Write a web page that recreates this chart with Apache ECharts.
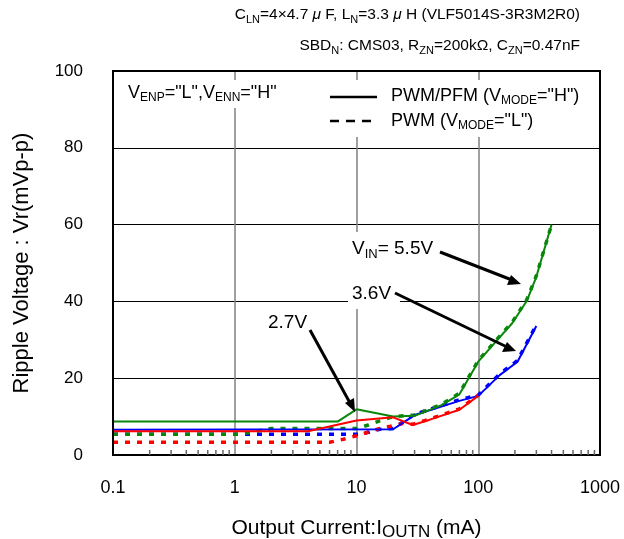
<!DOCTYPE html>
<html><head><meta charset="utf-8">
<script src="https://cdn.jsdelivr.net/npm/echarts@6/dist/echarts.min.js"></script>
<style>html,body{margin:0;padding:0;background:#fff}#c{width:624px;height:539px}</style>
</head><body><div id="c"></div>
<script>
// ---- data (Output current mA, ripple mVp-p) ----
var xTickLabels = ['0.1','1','10','100','1000'];
var yTickLabels = ['0','20','40','60','80','100'];

var green55SolidX = [0.1, 7, 10, 20, 30, 50, 70, 100, 140, 190, 250, 300, 400];
var green55SolidY = [8.7, 8.7, 11.9, 10.0, 10.2, 13.0, 15.8, 24.3, 29.6, 34.3, 40.1, 46.4, 60.0];

var red27SolidX = [0.1, 4, 10, 20, 29, 40, 70, 100];
var red27SolidY = [6.2, 6.2, 9.0, 9.8, 7.8, 9.2, 11.8, 15.4];

var blue36SolidX = [0.1, 20, 30, 70, 100, 150, 210, 300];
var blue36SolidY = [6.6, 6.7, 10.4, 14.1, 15.4, 20.8, 24.3, 33.6];

var green55DashX = [0.1, 1.1, 2, 10, 12.5, 15.5, 20, 30, 50, 70, 100, 140, 190, 250, 300, 400];
var green55DashY = [5.4, 5.4, 6.9, 6.9, 7.8, 8.9, 10.0, 10.4, 13.2, 16.1, 24.6, 29.9, 34.6, 40.4, 46.7, 60.0];

var blue36DashX = [0.1, 10, 12.5, 15.5, 20, 30, 70, 100, 150, 210, 300];
var blue36DashY = [5.4, 5.4, 5.9, 6.7, 6.9, 10.6, 14.4, 15.6, 21.1, 24.6, 33.9];

var red27DashX = [0.1, 6, 7.8, 10, 15.5, 19, 24, 29, 40, 70, 100];
var red27DashY = [3.3, 3.3, 4.1, 5.0, 6.9, 7.5, 8.2, 8.0, 9.4, 12.0, 15.6];

var minorTickValues = [];
[0.1, 1, 10, 100].forEach(function (d) { for (var k = 2; k <= 9; k++) minorTickValues.push(+(d * k).toPrecision(3)); });

function pairs(xs, ys) { return xs.map(function (x, i) { return [x, ys[i]]; }); }

var FONT = '"Liberation Sans", Arial, sans-serif';
var chart = echarts.init(document.getElementById('c'), null, { renderer: 'canvas' });

function solid(name, color, xs, ys) {
  return { type: 'line', name: name, data: pairs(xs, ys), showSymbol: false, symbol: 'none',
    lineStyle: { color: color, width: 2 }, z: 5, animation: false };
}
function dashed(name, color, xs, ys) {
  return { type: 'line', name: name, data: pairs(xs, ys), showSymbol: false, symbol: 'none',
    lineStyle: { color: color, width: 3.5, type: [5, 7] }, z: 4, animation: false };
}

var subRich = {
  n: { fontSize: 18, fontFamily: FONT, color: '#000', lineHeight: 22 },
  s: { fontSize: 12, fontFamily: FONT, color: '#000', lineHeight: 14, verticalAlign: 'bottom' },
  tn: { fontSize: 15.5, fontFamily: FONT, color: '#000', lineHeight: 20 },
  ts: { fontSize: 11, fontFamily: FONT, color: '#000', lineHeight: 12, verticalAlign: 'bottom' },
  ti: { fontSize: 15.5, fontFamily: FONT, color: '#000', lineHeight: 20, fontStyle: 'italic' },
  an: { fontSize: 19, fontFamily: FONT, color: '#000', lineHeight: 24 },
  as: { fontSize: 13, fontFamily: FONT, color: '#000', lineHeight: 15, verticalAlign: 'bottom' },
  xn: { fontSize: 21, fontFamily: FONT, color: '#000', lineHeight: 26 },
  xs: { fontSize: 17, fontFamily: FONT, color: '#000', lineHeight: 22, verticalAlign: 'bottom' }
};

chart.setOption({
  animation: false,
  backgroundColor: '#fff',
  grid: { left: 113, right: 24, top: 71, bottom: 84, show: true, borderColor: '#000', borderWidth: 2,
    backgroundColor: 'transparent', z: 10, containLabel: false, outerBoundsMode: 'none' },
  xAxis: {
    type: 'log', logBase: 10, min: 0.1, max: 1000,
    axisLine: { show: false }, axisTick: { show: false },
    axisLabel: { fontSize: 18, fontFamily: FONT, color: '#000', margin: 24,
      formatter: function (v) { var i = Math.round(Math.log10(v)) + 1; return xTickLabels[i]; } },
    splitLine: { show: true, lineStyle: { color: '#808080', width: 1.5 } },
    name: '{xn|Output Current:I}{xs|OUTN}{xn| (mA)}', nameLocation: 'middle', nameGap: 60,
    nameTextStyle: { rich: subRich }
  },
  yAxis: {
    type: 'value', min: 0, max: 100, interval: 20,
    axisLine: { show: false }, axisTick: { show: false },
    axisLabel: { fontSize: 17, fontFamily: FONT, color: '#000', margin: 30,
      formatter: function (v) { return yTickLabels[Math.round(v / 20)]; } },
    splitLine: { show: true, lineStyle: { color: '#000', width: 1 } },
    name: 'Ripple Voltage : Vr(mVp-p)', nameLocation: 'middle', nameGap: 80,
    nameTextStyle: { fontSize: 22, fontFamily: FONT, color: '#000' }
  },
  series: [
    dashed('3.6V PWM', '#0000ff', blue36DashX, blue36DashY),
    dashed('5.5V PWM', '#0a870a', green55DashX, green55DashY),
    dashed('2.7V PWM', '#ff0000', red27DashX, red27DashY),
    solid('3.6V PWM/PFM', '#0000ff', blue36SolidX, blue36SolidY),
    solid('5.5V PWM/PFM', '#0a870a', green55SolidX, green55SolidY),
    solid('2.7V PWM/PFM', '#ff0000', red27SolidX, red27SolidY),
    {
      type: 'custom', name: 'minorTicks', silent: true, z: 11, animation: false,
      data: minorTickValues.map(function (v) { return [v, 0]; }),
      renderItem: function (params, api) {
        var p = api.coord([api.value(0), 0]);
        return { type: 'line', shape: { x1: p[0], y1: p[1], x2: p[0], y2: p[1] - 5 },
          style: { stroke: '#666', lineWidth: 1.5 } };
      }
    }
  ],
  graphic: [
    { type: 'text', right: 44, top: 7, z: 100,
      style: { text: '{tn|C}{ts|LN}{tn|=4×4.7}{ti| μ }{tn|F, L}{ts|N}{tn|=3.3}{ti| μ }{tn|H (VLF5014S-3R3M2R0)}', rich: subRich } },
    { type: 'text', right: 44, top: 38, z: 100,
      style: { text: '{tn|SBD}{ts|N}{tn|: CMS03, R}{ts|ZN}{tn|=200kΩ, C}{ts|ZN}{tn|=0.47nF}', rich: subRich } },
    { type: 'text', left: 126, top: 80, z: 100,
      style: { text: '{n|V}{s|ENP}{n|="L",V}{s|ENN}{n|="H"}', rich: subRich, backgroundColor: '#fff', padding: [2, 2, 4, 2] } },
    { type: 'rect', shape: { x: 322, y: 80, width: 272, height: 57 }, style: { fill: '#fff' }, z: 99 },
    { type: 'line', shape: { x1: 330, y1: 97, x2: 377, y2: 97 }, style: { stroke: '#000', lineWidth: 2.5 }, z: 100 },
    { type: 'line', shape: { x1: 330, y1: 121, x2: 377, y2: 121 }, style: { stroke: '#000', lineWidth: 2.5, lineDash: [9, 7] }, z: 100 },
    { type: 'text', left: 391, top: 87, z: 100,
      style: { text: '{n|PWM/PFM (V}{s|MODE}{n|="H")}', rich: subRich } },
    { type: 'text', left: 391, top: 112, z: 100,
      style: { text: '{n|PWM (V}{s|MODE}{n|="L")}', rich: subRich } },
    // annotations
    { type: 'rect', shape: { x: 348, y: 232, width: 52, height: 77 }, style: { fill: '#fff' }, z: 99 },
    { type: 'text', left: 350, top: 235, z: 100,
      style: { text: '{an|V}{as|IN}{an|= 5.5V}', rich: subRich, backgroundColor: '#fff', padding: [2, 2, 2, 2] } },
    { type: 'text', left: 350, top: 280, z: 100,
      style: { text: '{an|3.6V}', rich: subRich, backgroundColor: '#fff', padding: [2, 2, 2, 2] } },
    { type: 'text', left: 266, top: 309, z: 100,
      style: { text: '{an|2.7V}', rich: subRich, backgroundColor: '#fff', padding: [2, 2, 2, 2] } },
    { type: 'line', shape: { x1: 440, y1: 252, x2: 512, y2: 280 }, style: { stroke: '#000', lineWidth: 3 }, z: 100 },
    { type: 'polygon', shape: { points: [[521, 284], [507, 285], [511, 275]] }, style: { fill: '#000' }, z: 100 },
    { type: 'line', shape: { x1: 395, y1: 293, x2: 507, y2: 347 }, style: { stroke: '#000', lineWidth: 3 }, z: 100 },
    { type: 'polygon', shape: { points: [[516, 351], [502, 352], [507, 342]] }, style: { fill: '#000' }, z: 100 },
    { type: 'line', shape: { x1: 310, y1: 330, x2: 350, y2: 403 }, style: { stroke: '#000', lineWidth: 3 }, z: 100 },
    { type: 'polygon', shape: { points: [[355, 412], [345, 403], [354, 398]] }, style: { fill: '#000' }, z: 100 }
  ]
});
</script>
</body></html>
